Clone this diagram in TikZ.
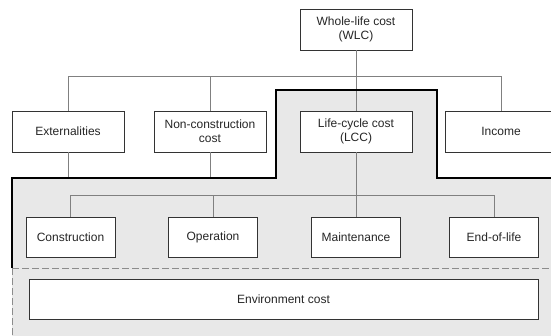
\documentclass[tikz,border=0pt]{standalone}
\usepackage{fontspec}
\setmainfont{Liberation Sans}
\begin{document}
\begin{tikzpicture}[x=1pt,y=-1pt,
  box/.style={draw=black!80, line width=0.8pt, fill=white, inner sep=0pt,
    align=center, text=black!85, font=\fontsize{12}{14}\selectfont},
  topbox/.style={box, minimum width=112pt, minimum height=41pt},
  lowbox/.style={box, minimum width=89pt, minimum height=40pt},
  conn/.style={draw=black!50, line width=0.7pt},
  outline/.style={draw=black, line width=1.7pt, line join=miter},
  region/.style={fill=black!9},
  dashline/.style={draw=black!45, line width=1pt, dash pattern=on 7pt off 3pt}]
\useasboundingbox (0,0) rectangle (551,335);
\clip (0,0) rectangle (551,335);
% shaded region
\fill[region] (12,336) -- (12,178) -- (276,178) -- (276,90) -- (437,90) -- (437,178) -- (560,178) -- (560,336) -- cycle;
% nodes
\node[topbox] (wlc) at (356,29.5) {Whole-life cost\\(WLC)};
\node[topbox] (ext) at (68,131.5) {Externalities};
\node[topbox] (ncc) at (210,131.5) {Non-construction\\cost};
\node[topbox] (lcc) at (356,131.5) {Life-cycle cost\\(LCC)};
\node[topbox] (inc) at (501,131.5) {Income};
\node[lowbox] (con) at (70.5,237) {Construction};
\node[lowbox] (ope) at (213,237) {Operation};
\node[lowbox] (mai) at (356,237) {Maintenance};
\node[lowbox] (eol) at (494,237) {End-of-life};
\node[box, minimum width=509pt, minimum height=40pt] (env) at (283.5,299) {Environment cost};
% bus coordinates
\coordinate (busA) at (0,76);
\coordinate (busB) at (0,195);
\coordinate (edge) at (0,178);
% connectors
\draw[conn] (ext.north) -- (ext.north |- busA) -- (inc.north |- busA) -- (inc.north);
\draw[conn] (ncc.north) -- (ncc.north |- busA);
\draw[conn] (wlc.south) -- (lcc.north);
\draw[conn] (ext.south) -- (ext.south |- edge);
\draw[conn] (ncc.south) -- (ncc.south |- edge);
\draw[conn] (con.north) -- (con.north |- busB) -- (eol.north |- busB) -- (eol.north);
\draw[conn] (ope.north) -- (ope.north |- busB);
\draw[conn] (lcc.south) -- (mai.north);
% thick outline
\draw[outline] (12,268) -- (12,178) -- (276,178) -- (276,90) -- (437,90) -- (437,178) -- (560,178);
% dashed boundary
\draw[dashline] (12,268) -- (560,268);
\draw[dashline] (12,268) -- (12,340);
\end{tikzpicture}
\end{document}
